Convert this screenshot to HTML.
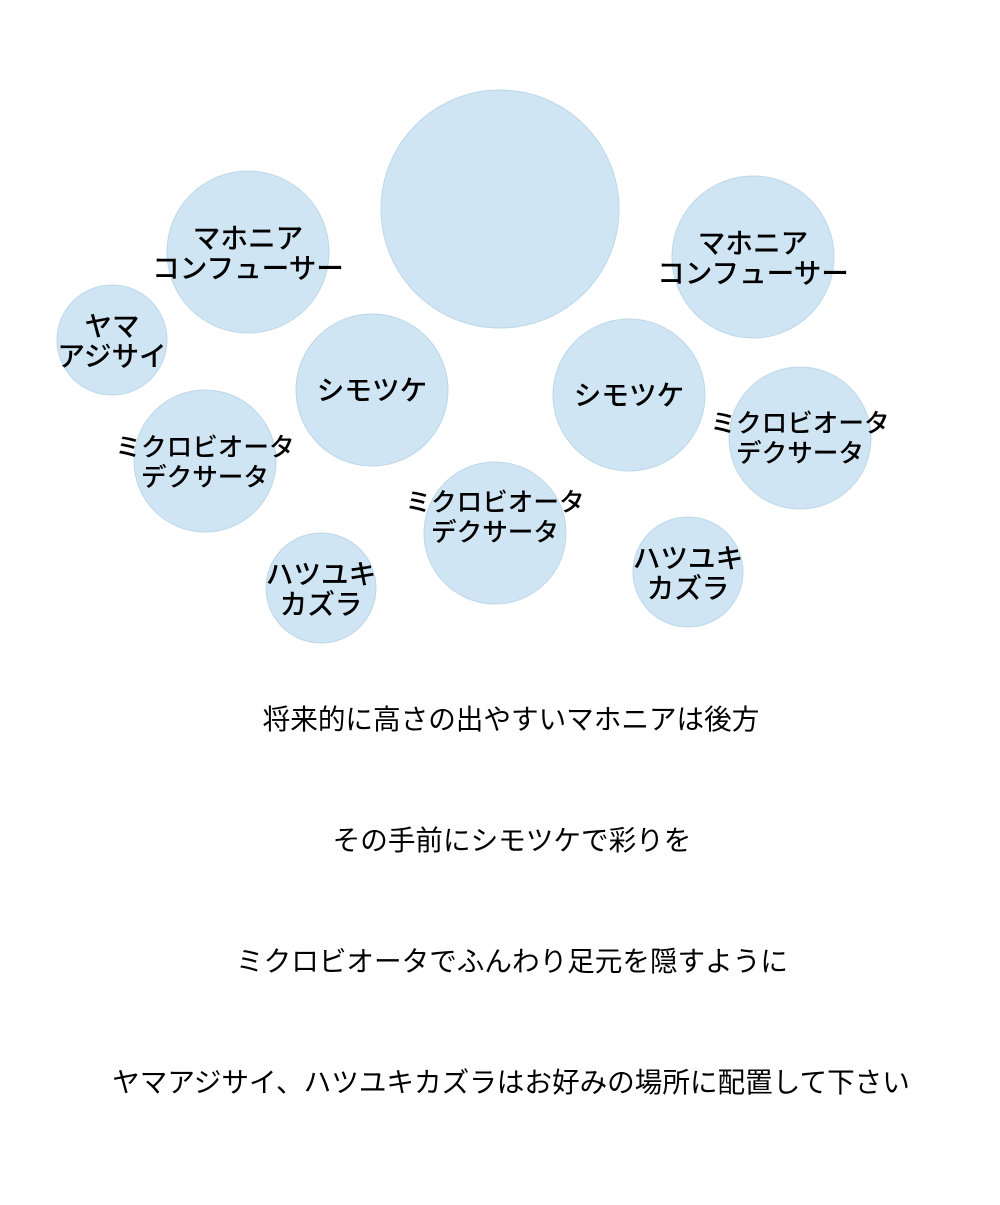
<!DOCTYPE html>
<html><head><meta charset="utf-8"><style>
html,body{margin:0;padding:0;background:#fff;}
svg text{font-family:"Liberation Sans","Noto Sans CJK JP",sans-serif;fill:#000;}
</style></head><body>
<svg width="1000" height="1200" xmlns="http://www.w3.org/2000/svg">
<g fill="#d0e5f3" stroke="#bcd7ea" stroke-width="1">
<circle cx="500" cy="209" r="119"/>
<circle cx="248" cy="252" r="81"/>
<circle cx="753" cy="257" r="81"/>
<circle cx="112" cy="340" r="55"/>
<circle cx="372" cy="390" r="76"/>
<circle cx="629" cy="395" r="76"/>
<circle cx="205" cy="461" r="71"/>
<circle cx="800" cy="438" r="71"/>
<circle cx="495" cy="533" r="71"/>
<circle cx="321" cy="588" r="55"/>
<circle cx="688" cy="572" r="55"/>
</g>
<g font-size="27.6" text-anchor="middle" font-weight="500">
<text x="248" y="248">マホニア</text><text x="248" y="278">コンフューサー</text>
<text x="753" y="253">マホニア</text><text x="753" y="283">コンフューサー</text>
<text x="112" y="336">ヤマ</text><text x="112" y="366">アジサイ</text>
<text x="372" y="400">シモツケ</text>
<text x="629" y="405">シモツケ</text>
<text x="321" y="584">ハツユキ</text><text x="321" y="614">カズラ</text>
<text x="688" y="568">ハツユキ</text><text x="688" y="598">カズラ</text>
</g>
<g font-size="25.6" text-anchor="middle" font-weight="500">
<text x="205" y="456">ミクロビオータ</text><text x="205" y="486">デクサータ</text>
<text x="800" y="432">ミクロビオータ</text><text x="800" y="462">デクサータ</text>
<text x="495" y="511">ミクロビオータ</text><text x="495" y="541">デクサータ</text>
</g>
<g font-size="27.6" text-anchor="middle">
<text x="511" y="729">将来的に高さの出やすいマホニアは後方</text>
<text x="512" y="850">その手前にシモツケで彩りを</text>
<text x="512" y="971">ミクロビオータでふんわり足元を隠すように</text>
<text x="511" y="1092">ヤマアジサイ、ハツユキカズラはお好みの場所に配置して下さい</text>
</g>
</svg>
</body></html>
